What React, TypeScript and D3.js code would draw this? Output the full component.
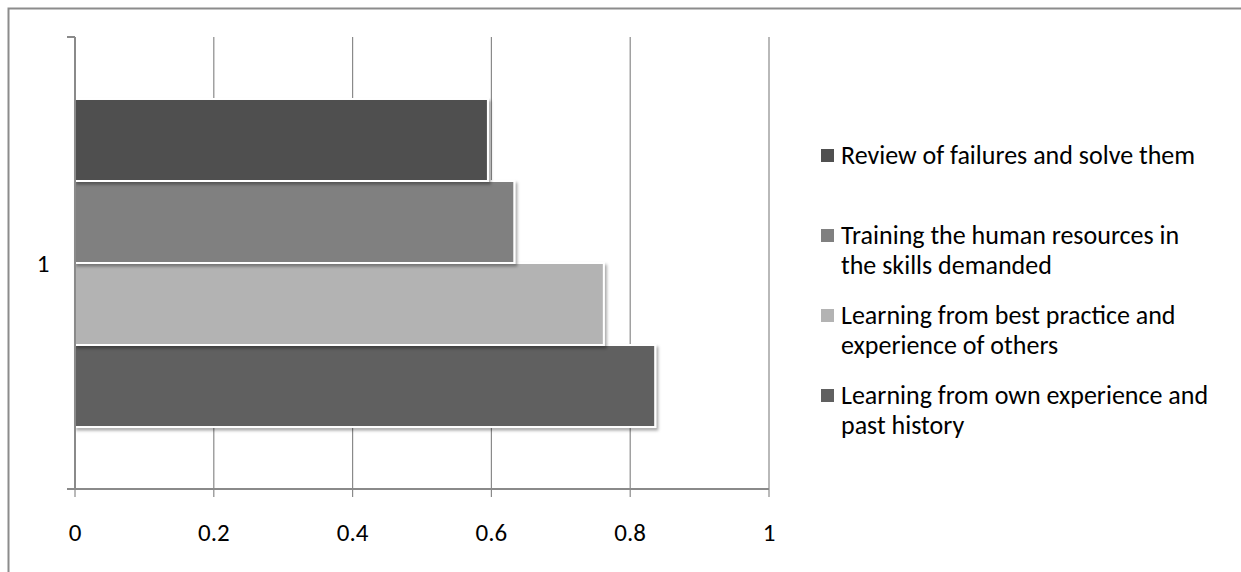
import React from "react";
import * as d3 from "d3";

const categories = ["1"];
const seriesNames = [
  "Learning from own experience and past history",
  "Learning from best practice and experience of others",
  "Training the human resources in the skills demanded",
  "Review of failures and solve them",
];
const legendLines = [
  ["Learning from own experience and", "past history"],
  ["Learning from best practice and", "experience of others"],
  ["Training the human resources in", "the skills demanded"],
  ["Review of failures and solve them"],
];
const seriesValues = [0.836, 0.762, 0.633, 0.595];
const seriesColors = ["#606060", "#b3b3b3", "#808080", "#505050"];
const xTicks = [0, 0.2, 0.4, 0.6, 0.8, 1];

const W = 1241;
const H = 572;
const FONT = "Carlito, Lato, 'Liberation Sans', sans-serif";

export default function App() {
  const left = 75, right = 769, top = 37, bottom = 489;
  const x = d3.scaleLinear().domain([0, 1]).range([left, right]);
  const yCat = d3.scaleBand().domain(categories).range([top, bottom]).paddingOuter(0.189).paddingInner(0);
  const order = [...seriesNames].reverse(); // top = last series
  const ySer = d3.scaleBand().domain(order).range([0, yCat.bandwidth()]);
  const axisColor = "#8a8a8a";

  return (
    <svg width={W} height={H} style={{ position: "absolute", left: 0, top: 0, display: "block" }}>
      <defs>
        <filter id="sh" x="-5%" y="-10%" width="115%" height="130%">
          <feDropShadow dx="2" dy="2.5" stdDeviation="1.5" floodColor="#000" floodOpacity="0.35" />
        </filter>
      </defs>
      <rect x={0} y={0} width={W} height={H} fill="#fff" />
      <rect x={8.5} y={8.5} width={W + 20} height={H + 20} fill="none" stroke="#8c8c8c" strokeWidth={2} />

      {/* gridlines */}
      {xTicks.slice(1).map((t) => (
        <line key={"g" + t} x1={x(t)} x2={x(t)} y1={top} y2={bottom} stroke={axisColor} strokeWidth={1.2} />
      ))}

      {/* bars */}
      {categories.map((c) =>
        seriesNames.map((s, i) => {
          const y0 = (yCat(c) ?? 0) + (ySer(s) ?? 0);
          return (
            <rect
              key={c + s}
              x={x(0)}
              y={y0}
              width={x(seriesValues[i]) - x(0)}
              height={ySer.bandwidth()}
              fill={seriesColors[i]}
              stroke="#fff"
              strokeWidth={2}
              filter="url(#sh)"
            />
          );
        })
      )}

      {/* y axis */}
      <line x1={left} x2={left} y1={top} y2={bottom} stroke={axisColor} strokeWidth={2} />
      <line x1={left - 8} x2={left} y1={top} y2={top} stroke={axisColor} strokeWidth={2} />
      <line x1={left - 8} x2={left} y1={bottom} y2={bottom} stroke={axisColor} strokeWidth={2} />
      {categories.map((c) => (
        <text key={c} x={43} y={(yCat(c) ?? 0) + yCat.bandwidth() / 2} textAnchor="middle" dominantBaseline="central"
          fontFamily={FONT} fontSize={25} fill="#000">{c}</text>
      ))}

      {/* x axis */}
      <line x1={left} x2={right} y1={bottom} y2={bottom} stroke={axisColor} strokeWidth={2} />
      {xTicks.map((t) => (
        <g key={"t" + t}>
          <line x1={x(t)} x2={x(t)} y1={bottom} y2={bottom + 8} stroke={axisColor} strokeWidth={1.2} />
          <text x={x(t)} y={532} textAnchor="middle" dominantBaseline="central" fontFamily={FONT} fontSize={25} fill="#000">
            {String(t)}
          </text>
        </g>
      ))}

      {/* legend */}
      {order.map((s, k) => {
        const i = seriesNames.indexOf(s);
        const lines = legendLines[i];
        const yTop = 155 + k * 80;
        return (
          <g key={"l" + s}>
            <rect x={821} y={yTop - 6} width={13} height={13} fill={seriesColors[i]} />
            {lines.map((ln, j) => (
              <text key={j} x={841} y={yTop + j * 30} dominantBaseline="central" fontFamily={FONT} fontSize={26} fill="#000">
                {ln}
              </text>
            ))}
          </g>
        );
      })}
    </svg>
  );
}
